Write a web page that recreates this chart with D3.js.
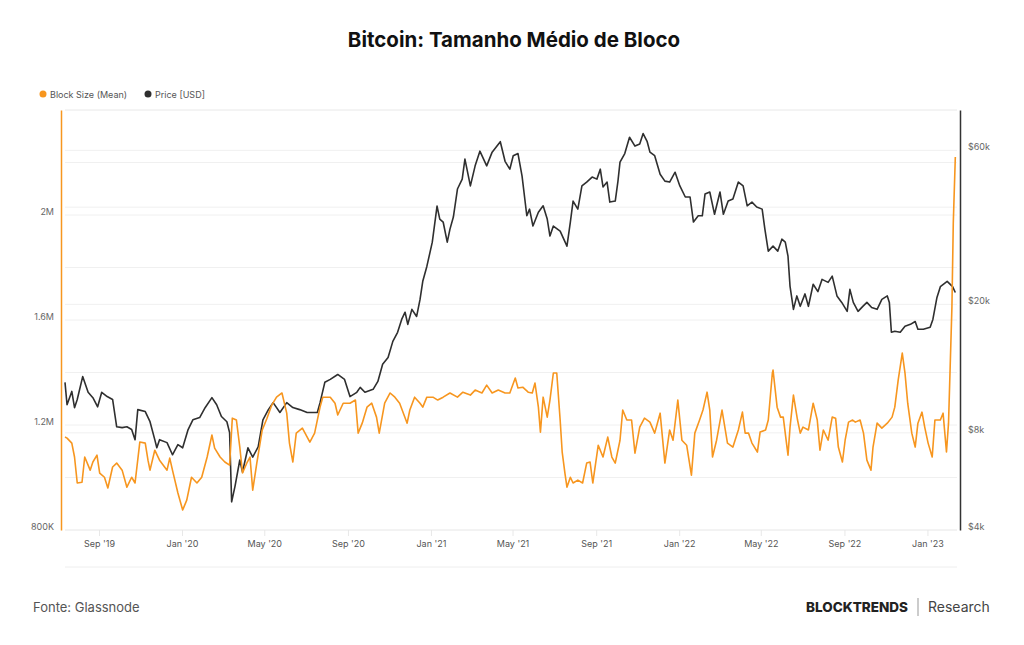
<!DOCTYPE html>
<html>
<head>
<meta charset="utf-8">
<script src="https://cdn.jsdelivr.net/npm/d3@7"></script>
<style>
  html, body { margin: 0; padding: 0; background: #fff; }
  svg { display: block; font-family: Inter, "Noto Sans", sans-serif; }
</style>
</head>
<body>
<div id="chart"></div>
<script>
// Bitcoin mean block size (thousand bytes)
const blockSize = [
  ["2019-07-13",1154],["2019-07-16",1150],["2019-07-23",1131],["2019-07-27",1078],["2019-07-31",979],
  ["2019-08-07",982],["2019-08-11",1078],["2019-08-19",1028],["2019-08-23",1059],["2019-08-29",1085],
  ["2019-09-02",1017],["2019-09-09",1001],["2019-09-14",960],["2019-09-21",1040],["2019-09-27",1055],
  ["2019-10-05",1028],["2019-10-12",963],["2019-10-19",1001],["2019-10-24",979],["2019-10-31",1135],
  ["2019-11-08",1131],["2019-11-12",1066],["2019-11-15",1028],["2019-11-22",1104],["2019-11-29",1066],
  ["2019-12-10",1028],["2019-12-14",1074],["2019-12-18",1028],["2019-12-26",941],["2020-01-02",876],
  ["2020-01-08",914],["2020-01-15",1001],["2020-01-23",979],["2020-01-30",1001],["2020-02-07",1078],
  ["2020-02-14",1162],["2020-02-18",1112],["2020-02-26",1078],["2020-03-04",1059],["2020-03-11",1047],
  ["2020-03-15",1226],["2020-03-21",1219],["2020-03-26",1116],["2020-03-30",1017],["2020-04-06",1059],
  ["2020-04-10",1078],["2020-04-14",952],["2020-04-20",1055],["2020-04-28",1181],["2020-05-05",1226],
  ["2020-05-12",1276],["2020-05-19",1306],["2020-05-27",1322],["2020-06-03",1245],["2020-06-07",1131],
  ["2020-06-12",1059],["2020-06-17",1169],["2020-06-26",1188],["2020-07-07",1135],["2020-07-14",1169],
  ["2020-07-22",1268],["2020-07-26",1306],["2020-08-06",1306],["2020-08-13",1283],["2020-08-17",1238],
  ["2020-08-25",1283],["2020-09-04",1283],["2020-09-12",1295],["2020-09-16",1169],["2020-09-22",1207],
  ["2020-09-29",1268],["2020-10-06",1283],["2020-10-13",1230],["2020-10-17",1169],["2020-10-25",1283],
  ["2020-11-02",1322],["2020-11-09",1306],["2020-11-16",1283],["2020-11-27",1207],["2020-12-01",1257],
  ["2020-12-08",1306],["2020-12-16",1283],["2020-12-20",1268],["2020-12-26",1306],["2021-01-04",1306],
  ["2021-01-11",1295],["2021-01-19",1306],["2021-01-29",1322],["2021-02-09",1306],["2021-02-17",1325],
  ["2021-02-28",1314],["2021-03-07",1333],["2021-03-17",1322],["2021-03-24",1352],["2021-04-01",1322],
  ["2021-04-10",1333],["2021-04-20",1322],["2021-04-27",1322],["2021-05-05",1379],["2021-05-09",1341],
  ["2021-05-16",1344],["2021-05-24",1325],["2021-05-30",1322],["2021-06-03",1360],["2021-06-08",1268],
  ["2021-06-11",1173],["2021-06-15",1306],["2021-06-21",1230],["2021-06-25",1295],["2021-06-30",1398],
  ["2021-07-05",1398],["2021-07-10",1219],["2021-07-13",1097],["2021-07-17",1017],["2021-07-20",963],
  ["2021-07-25",1001],["2021-07-29",979],["2021-08-05",990],["2021-08-12",979],["2021-08-18",1055],
  ["2021-08-23",1059],["2021-08-27",979],["2021-09-04",1123],["2021-09-11",1078],["2021-09-18",1154],
  ["2021-09-24",1078],["2021-09-29",1055],["2021-10-06",1142],["2021-10-10",1257],["2021-10-16",1219],
  ["2021-10-23",1219],["2021-10-28",1093],["2021-11-04",1192],["2021-11-11",1226],["2021-11-19",1211],
  ["2021-11-26",1169],["2021-12-04",1245],["2021-12-11",1055],["2021-12-18",1181],["2021-12-23",1142],
  ["2021-12-30",1295],["2022-01-05",1142],["2022-01-12",1123],["2022-01-19",1009],["2022-01-24",1169],
  ["2022-01-31",1219],["2022-02-05",1257],["2022-02-11",1325],["2022-02-15",1257],["2022-02-19",1078],
  ["2022-02-25",1142],["2022-03-05",1257],["2022-03-13",1131],["2022-03-21",1116],["2022-03-29",1181],
  ["2022-04-04",1249],["2022-04-08",1169],["2022-04-13",1169],["2022-04-18",1131],["2022-04-26",1097],
  ["2022-04-30",1173],["2022-05-08",1181],["2022-05-12",1219],["2022-05-18",1398],["2022-05-19",1409],
  ["2022-05-25",1268],["2022-05-30",1230],["2022-06-03",1230],["2022-06-10",1085],["2022-06-13",1192],
  ["2022-06-18",1314],["2022-06-24",1219],["2022-06-28",1169],["2022-07-02",1192],["2022-07-10",1181],
  ["2022-07-17",1283],["2022-07-23",1219],["2022-07-27",1104],["2022-08-01",1181],["2022-08-08",1142],
  ["2022-08-14",1230],["2022-08-19",1226],["2022-08-23",1116],["2022-08-29",1059],["2022-09-02",1142],
  ["2022-09-07",1211],["2022-09-13",1219],["2022-09-17",1211],["2022-09-24",1219],["2022-09-29",1169],
  ["2022-10-04",1066],["2022-10-10",1028],["2022-10-13",1116],["2022-10-19",1207],["2022-10-26",1188],
  ["2022-11-03",1207],["2022-11-10",1230],["2022-11-14",1268],["2022-11-19",1371],["2022-11-25",1474],
  ["2022-11-29",1398],["2022-12-03",1283],["2022-12-09",1169],["2022-12-14",1116],["2022-12-18",1207],
  ["2022-12-24",1249],["2022-12-28",1192],["2023-01-02",1131],["2023-01-08",1078],["2023-01-12",1219],
  ["2023-01-20",1219],["2023-01-24",1245],["2023-01-29",1097],["2023-02-01",1207],["2023-02-06",1649],
  ["2023-02-08",1969],["2023-02-11",2221]
];

// BTC price in USD
const price = [
  ["2019-07-13",11470],["2019-07-16",9770],["2019-07-23",10750],["2019-07-27",9570],["2019-07-31",10150],
  ["2019-08-08",11950],["2019-08-16",10680],["2019-08-23",10280],["2019-08-30",9630],["2019-09-05",10680],
  ["2019-09-13",10360],["2019-09-21",10150],["2019-09-27",8350],["2019-10-05",8300],["2019-10-12",8350],
  ["2019-10-19",8190],["2019-10-24",7620],["2019-10-28",9440],["2019-11-08",9310],["2019-11-15",8660],
  ["2019-11-22",7620],["2019-11-25",7190],["2019-11-29",7620],["2019-12-10",7460],["2019-12-18",6840],
  ["2019-12-26",7350],["2020-01-02",7190],["2020-01-10",8190],["2020-01-17",8780],["2020-01-27",8920],
  ["2020-02-04",9570],["2020-02-14",10280],["2020-02-21",9770],["2020-02-28",8990],["2020-03-07",8660],
  ["2020-03-11",8010],["2020-03-14",4890],["2020-03-19",5470],["2020-03-26",6590],["2020-03-30",6050],
  ["2020-04-07",7190],["2020-04-14",6730],["2020-04-22",7240],["2020-04-29",8780],["2020-05-07",9440],
  ["2020-05-14",9920],["2020-05-24",9250],["2020-06-03",9920],["2020-06-12",9580],["2020-06-22",9440],
  ["2020-07-03",9250],["2020-07-18",9250],["2020-07-22",9920],["2020-07-29",11470],["2020-08-06",11710],
  ["2020-08-17",12130],["2020-08-27",11710],["2020-09-04",10360],["2020-09-14",10680],["2020-09-19",11060],
  ["2020-09-26",10680],["2020-10-08",10910],["2020-10-15",11540],["2020-10-22",13050],["2020-10-30",13700],
  ["2020-11-06",15360],["2020-11-13",16390],["2020-11-19",17960],["2020-11-24",18910],["2020-11-28",17340],
  ["2020-12-04",19300],["2020-12-11",18350],["2020-12-16",20720],["2020-12-20",23570],["2020-12-26",26210],
  ["2021-01-03",31170],["2021-01-10",40300],["2021-01-14",36750],["2021-01-19",35980],["2021-01-25",31170],
  ["2021-01-29",34200],["2021-02-03",37270],["2021-02-09",45530],["2021-02-16",48860],["2021-02-20",56340],
  ["2021-02-28",46550],["2021-03-07",53710],["2021-03-14",59650],["2021-03-24",53710],["2021-04-01",59230],
  ["2021-04-13",63810],["2021-04-20",55490],["2021-04-27",52450],["2021-05-02",57740],["2021-05-09",58650],
  ["2021-05-15",49930],["2021-05-22",37620],["2021-05-26",39450],["2021-05-31",34970],["2021-06-08",38570],
  ["2021-06-15",40390],["2021-06-21",36750],["2021-06-25",32560],["2021-06-30",34970],["2021-07-10",33710],
  ["2021-07-20",30290],["2021-07-25",35980],["2021-07-29",41780],["2021-08-05",39450],["2021-08-11",46550],
  ["2021-08-18",47840],["2021-08-26",49590],["2021-09-02",48860],["2021-09-07",52450],["2021-09-11",46200],
  ["2021-09-17",47840],["2021-09-21",41480],["2021-09-29",41780],["2021-10-03",48180],["2021-10-06",55160],
  ["2021-10-13",58650],["2021-10-20",65860],["2021-10-28",61860],["2021-11-04",62800],["2021-11-09",67600],
  ["2021-11-15",63810],["2021-11-19",59230],["2021-11-26",57740],["2021-12-04",50610],["2021-12-11",48180],
  ["2021-12-18",47840],["2021-12-26",51330],["2022-01-02",46550],["2022-01-10",43010],["2022-01-17",43010],
  ["2022-01-22",35980],["2022-01-29",37620],["2022-02-04",37620],["2022-02-08",43910],["2022-02-15",44580],
  ["2022-02-22",38020],["2022-03-02",44580],["2022-03-07",38020],["2022-03-14",41780],["2022-03-21",42380],
  ["2022-03-29",47840],["2022-04-05",46550],["2022-04-11",40390],["2022-04-18",41480],["2022-04-25",40060],
  ["2022-05-03",39450],["2022-05-07",34210],["2022-05-12",29240],["2022-05-19",30290],["2022-05-26",29240],
  ["2022-06-01",31840],["2022-06-06",31170],["2022-06-10",28200],["2022-06-13",22740],["2022-06-18",19300],
  ["2022-06-23",21240],["2022-06-28",19720],["2022-07-05",21550],["2022-07-10",19720],["2022-07-17",23080],
  ["2022-07-24",21910],["2022-07-30",23900],["2022-08-08",23390],["2022-08-14",24470],["2022-08-21",21240],
  ["2022-08-28",20280],["2022-09-05",19030],["2022-09-09",22260],["2022-09-14",20280],["2022-09-21",19030],
  ["2022-09-28",19720],["2022-10-04",20280],["2022-10-11",19550],["2022-10-19",19300],["2022-10-26",20720],
  ["2022-11-03",21240],["2022-11-06",20280],["2022-11-09",16390],["2022-11-14",16510],["2022-11-22",16390],
  ["2022-11-29",17100],["2022-12-07",17340],["2022-12-14",17700],["2022-12-18",16740],["2022-12-26",16740],
  ["2023-01-05",16980],["2023-01-09",17960],["2023-01-15",21010],["2023-01-20",22690],["2023-01-30",23570],
  ["2023-02-07",22690],["2023-02-11",21760]
];

const leftTicks = [800000, 1200000, 1600000, 2000000];
const leftTickLabels = ["800K", "1.2M", "1.6M", "2M"];
const leftGrid = [1000000, 1200000, 1400000, 1600000, 1800000, 2000000, 2200000, 2400000];
const rightTicks = [4000, 8000, 20000, 60000];
const rightTickLabels = ["$4k", "$8k", "$20k", "$60k"];
const rightGrid = [8000, 20000, 40000, 60000];
const xTickDates = ["2019-09-01", "2020-01-01", "2020-05-01", "2020-09-01", "2021-01-01", "2021-05-01",
  "2021-09-01", "2022-01-01", "2022-05-01", "2022-09-01", "2023-01-01"];

const ORANGE = "#f7961f";
const DARK = "#2f2f2f";
const W = 1024, H = 645;
const plot = { left: 65, right: 957, top: 110, bottom: 530 };

const parse = d3.timeParse("%Y-%m-%d");

const svg = d3.select("#chart").append("svg")
  .attr("width", W)
  .attr("height", H)
  .attr("viewBox", `0 0 ${W} ${H}`);

svg.append("rect").attr("width", W).attr("height", H).attr("fill", "#fff");

const xScale = d3.scaleTime()
  .domain([parse("2019-07-13"), parse("2023-02-12")])
  .range([plot.left, 956]);

const yLeft = d3.scaleLinear()
  .domain([800000, 2400000])
  .range([plot.bottom, plot.top]);

const yRight = d3.scaleLog()
  .domain([4000, 80000])
  .range([plot.bottom, plot.top]);

// title
svg.append("text")
  .attr("x", W / 2 + 2)
  .attr("y", 47)
  .attr("text-anchor", "middle")
  .style("font-size", "20.5px")
  .style("font-weight", "700")
  .style("fill", "#111")
  .text("Bitcoin: Tamanho Médio de Bloco");

// legend
const legend = svg.append("g").attr("transform", "translate(0,94)");
[[43, ORANGE, "Block Size (Mean)"], [148, DARK, "Price [USD]"]].forEach(([x, c, t]) => {
  legend.append("circle").attr("cx", x).attr("cy", 0).attr("r", 3.5).attr("fill", c);
  legend.append("text")
    .attr("x", x + 7)
    .attr("y", 3.5)
    .style("font-size", "9px")
    .style("fill", "#555")
    .text(t);
});

// grid lines
const grid = svg.append("g");
grid.append("line")
  .attr("x1", plot.left).attr("x2", plot.right)
  .attr("y1", plot.top).attr("y2", plot.top)
  .attr("stroke", "#f0f0f0");
grid.selectAll(".gl")
  .data(leftGrid)
  .enter().append("line")
  .attr("x1", plot.left).attr("x2", plot.right)
  .attr("y1", d => yLeft(d)).attr("y2", d => yLeft(d))
  .attr("stroke", "#f0f0f0");
grid.selectAll(".gr")
  .data(rightGrid)
  .enter().append("line")
  .attr("x1", plot.left).attr("x2", plot.right)
  .attr("y1", d => yRight(d)).attr("y2", d => yRight(d))
  .attr("stroke", "#f0f0f0");

// x axis
const xAxis = svg.append("g")
  .attr("transform", `translate(0,${plot.bottom})`)
  .call(d3.axisBottom(xScale)
    .tickValues(xTickDates.map(parse))
    .tickSize(6)
    .tickFormat(d3.timeFormat("%b '%y")));
xAxis.select(".domain").remove();
xAxis.selectAll(".tick line").attr("stroke", "#e8e8e8");
xAxis.selectAll(".tick text")
  .attr("dy", "0.9em")
  .style("font-family", "Inter, sans-serif")
  .style("font-size", "9px")
  .style("fill", "#555");

svg.append("line")
  .attr("x1", plot.left).attr("x2", plot.right)
  .attr("y1", plot.bottom).attr("y2", plot.bottom)
  .attr("stroke", "#e6e6e6");

// navigator baseline
svg.append("line")
  .attr("x1", plot.left).attr("x2", plot.right)
  .attr("y1", 567).attr("y2", 567)
  .attr("stroke", "#eeeeee");

// left axis
const leftAxis = svg.append("g")
  .attr("transform", `translate(61,0)`)
  .call(d3.axisLeft(yLeft)
    .tickValues(leftTicks)
    .tickSize(0)
    .tickPadding(7)
    .tickFormat((d, i) => leftTickLabels[i]));
leftAxis.select(".domain").attr("stroke", ORANGE).attr("stroke-width", 1.5);
leftAxis.selectAll(".tick text")
  .attr("dy", "-0.05em")
  .style("font-family", "Inter, sans-serif")
  .style("font-size", "9px")
  .style("fill", "#666");

// right axis
const rightAxis = svg.append("g")
  .attr("transform", `translate(960,0)`)
  .call(d3.axisRight(yRight)
    .tickValues(rightTicks)
    .tickSize(0)
    .tickPadding(8)
    .tickFormat((d, i) => rightTickLabels[i]));
rightAxis.select(".domain").attr("stroke", "#333").attr("stroke-width", 1.5);
rightAxis.selectAll(".tick text")
  .attr("dy", "-0.05em")
  .style("font-family", "Inter, sans-serif")
  .style("font-size", "9px")
  .style("fill", "#666");

// series
const priceLine = d3.line()
  .x(d => xScale(parse(d[0])))
  .y(d => yRight(d[1]));

const blockLine = d3.line()
  .x(d => xScale(parse(d[0])))
  .y(d => yLeft(d[1] * 1000));

svg.append("path")
  .datum(price)
  .attr("fill", "none")
  .attr("stroke", DARK)
  .attr("stroke-width", 1.6)
  .attr("stroke-linejoin", "round")
  .attr("d", priceLine);

svg.append("path")
  .datum(blockSize)
  .attr("fill", "none")
  .attr("stroke", ORANGE)
  .attr("stroke-width", 1.6)
  .attr("stroke-linejoin", "round")
  .attr("d", blockLine);

// footer
svg.append("text")
  .attr("x", 33)
  .attr("y", 612)
  .style("font-size", "13px")
  .style("fill", "#555")
  .text("Fonte: Glassnode");

svg.append("text")
  .attr("x", 908)
  .attr("y", 612)
  .attr("text-anchor", "end")
  .style("font-size", "13.5px")
  .style("font-weight", "800")
  .style("fill", "#222")
  .text("BLOCKTRENDS");

svg.append("line")
  .attr("x1", 918).attr("x2", 918)
  .attr("y1", 598).attr("y2", 616)
  .attr("stroke", "#999");

svg.append("text")
  .attr("x", 928)
  .attr("y", 612)
  .style("font-size", "14px")
  .style("fill", "#444")
  .text("Research");
</script>
</body>
</html>
